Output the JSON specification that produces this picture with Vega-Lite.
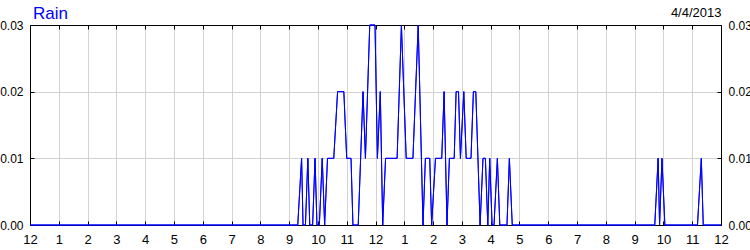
{
  "$schema": "https://vega.github.io/schema/vega-lite/v6.json",
  "width": 691,
  "height": 200,
  "autosize": {"type": "none"},
  "padding": {"left": 30, "top": 25, "right": 29, "bottom": 25},
  "background": "white",
  "config": {
    "view": {"stroke": "black", "strokeWidth": 1},
    "font": "Liberation Sans",
    "axis": {
      "domainColor": "black",
      "domainWidth": 1,
      "tickColor": "black",
      "tickWidth": 1,
      "labelColor": "black",
      "labelFont": "Liberation Sans",
      "labelFontSize": 12,
      "gridColor": "#d3d3d3",
      "gridWidth": 1,
      "gridOpacity": 1
    }
  },
  "title": {
    "text": "Rain",
    "anchor": "start",
    "frame": "group",
    "fontSize": 17,
    "fontWeight": "normal",
    "font": "Liberation Sans",
    "color": "#0000ff",
    "dx": 3,
    "offset": -16
  },
  "data": {
    "values": [
      {"time": "2013-04-04T00:00", "rain": 0},
      {"time": "2013-04-04T09:18", "rain": 0},
      {"time": "2013-04-04T09:26", "rain": 0.01},
      {"time": "2013-04-04T09:29", "rain": 0},
      {"time": "2013-04-04T09:34", "rain": 0},
      {"time": "2013-04-04T09:39", "rain": 0.01},
      {"time": "2013-04-04T09:43", "rain": 0},
      {"time": "2013-04-04T09:49", "rain": 0},
      {"time": "2013-04-04T09:54", "rain": 0.01},
      {"time": "2013-04-04T09:58", "rain": 0},
      {"time": "2013-04-04T10:03", "rain": 0},
      {"time": "2013-04-04T10:09", "rain": 0.01},
      {"time": "2013-04-04T10:14", "rain": 0},
      {"time": "2013-04-04T10:20", "rain": 0.01},
      {"time": "2013-04-04T10:33", "rain": 0.01},
      {"time": "2013-04-04T10:41", "rain": 0.02},
      {"time": "2013-04-04T10:54", "rain": 0.02},
      {"time": "2013-04-04T11:00", "rain": 0.01},
      {"time": "2013-04-04T11:09", "rain": 0.01},
      {"time": "2013-04-04T11:13", "rain": 0},
      {"time": "2013-04-04T11:24", "rain": 0},
      {"time": "2013-04-04T11:34", "rain": 0.02},
      {"time": "2013-04-04T11:39", "rain": 0.01},
      {"time": "2013-04-04T11:48", "rain": 0.03},
      {"time": "2013-04-04T11:59", "rain": 0.03},
      {"time": "2013-04-04T12:04", "rain": 0.01},
      {"time": "2013-04-04T12:10", "rain": 0.02},
      {"time": "2013-04-04T12:15", "rain": 0},
      {"time": "2013-04-04T12:21", "rain": 0.01},
      {"time": "2013-04-04T12:45", "rain": 0.01},
      {"time": "2013-04-04T12:54", "rain": 0.03},
      {"time": "2013-04-04T13:04", "rain": 0.01},
      {"time": "2013-04-04T13:18", "rain": 0.01},
      {"time": "2013-04-04T13:29", "rain": 0.03},
      {"time": "2013-04-04T13:39", "rain": 0},
      {"time": "2013-04-04T13:44", "rain": 0.01},
      {"time": "2013-04-04T13:53", "rain": 0.01},
      {"time": "2013-04-04T13:57", "rain": 0},
      {"time": "2013-04-04T14:05", "rain": 0.01},
      {"time": "2013-04-04T14:18", "rain": 0.01},
      {"time": "2013-04-04T14:23", "rain": 0.02},
      {"time": "2013-04-04T14:29", "rain": 0},
      {"time": "2013-04-04T14:34", "rain": 0.01},
      {"time": "2013-04-04T14:44", "rain": 0.01},
      {"time": "2013-04-04T14:48", "rain": 0.02},
      {"time": "2013-04-04T14:53", "rain": 0.02},
      {"time": "2013-04-04T14:57", "rain": 0.01},
      {"time": "2013-04-04T15:04", "rain": 0.02},
      {"time": "2013-04-04T15:09", "rain": 0.01},
      {"time": "2013-04-04T15:19", "rain": 0.01},
      {"time": "2013-04-04T15:24", "rain": 0.02},
      {"time": "2013-04-04T15:29", "rain": 0.02},
      {"time": "2013-04-04T15:38", "rain": 0},
      {"time": "2013-04-04T15:44", "rain": 0.01},
      {"time": "2013-04-04T15:49", "rain": 0.01},
      {"time": "2013-04-04T15:54", "rain": 0},
      {"time": "2013-04-04T15:58", "rain": 0.01},
      {"time": "2013-04-04T16:03", "rain": 0},
      {"time": "2013-04-04T16:07", "rain": 0},
      {"time": "2013-04-04T16:14", "rain": 0.01},
      {"time": "2013-04-04T16:19", "rain": 0},
      {"time": "2013-04-04T16:34", "rain": 0},
      {"time": "2013-04-04T16:39", "rain": 0.01},
      {"time": "2013-04-04T16:45", "rain": 0},
      {"time": "2013-04-04T21:42", "rain": 0},
      {"time": "2013-04-04T21:49", "rain": 0.01},
      {"time": "2013-04-04T21:52", "rain": 0},
      {"time": "2013-04-04T21:57", "rain": 0.01},
      {"time": "2013-04-04T22:03", "rain": 0},
      {"time": "2013-04-04T23:11", "rain": 0},
      {"time": "2013-04-04T23:19", "rain": 0.01},
      {"time": "2013-04-04T23:23", "rain": 0},
      {"time": "2013-04-05T00:00", "rain": 0}
    ]
  },
  "layer": [
    {
      "mark": {"type": "line", "color": "#0000ff", "strokeWidth": 1},
      "encoding": {
        "x": {
          "field": "time",
          "type": "temporal",
          "scale": {
            "domain": [
              {"year": 2013, "month": 4, "date": 4, "hours": 0},
              {"year": 2013, "month": 4, "date": 5, "hours": 0}
            ]
          },
          "axis": {
            "orient": "bottom",
            "title": null,
            "grid": true,
            "tickCount": 24,
            "labelExpr": "timeFormat(datum.value, '%-I')",
            "labelFlush": false,
            "labelOverlap": false,
            "tickSize": -4,
            "labelPadding": 12,
            "labelFontSize": 13
          }
        },
        "y": {
          "field": "rain",
          "type": "quantitative",
          "scale": {"domain": [0, 0.03], "nice": false},
          "axis": {
            "orient": "left",
            "title": null,
            "grid": true,
            "values": [0, 0.01, 0.02, 0.03],
            "format": ".2f",
            "tickSize": -4,
            "labelPadding": 11,
            "labelFlush": false
          }
        }
      }
    },
    {
      "mark": {"type": "line", "color": "#0000ff", "strokeWidth": 1},
      "encoding": {
        "x": {
          "field": "time",
          "type": "temporal",
          "scale": {
            "domain": [
              {"year": 2013, "month": 4, "date": 4, "hours": 0},
              {"year": 2013, "month": 4, "date": 5, "hours": 0}
            ]
          },
          "axis": {
            "orient": "top",
            "title": "4/4/2013",
            "titleAnchor": "end",
            "titleAlign": "right",
            "titleFontSize": 13,
            "titleFontWeight": "normal",
            "titleColor": "black",
            "titlePadding": 5,
            "grid": false,
            "labels": false,
            "tickCount": 24,
            "tickSize": -4
          }
        },
        "y": {
          "field": "rain",
          "type": "quantitative",
          "scale": {"domain": [0, 0.03], "nice": false},
          "axis": {
            "orient": "right",
            "title": null,
            "grid": false,
            "values": [0, 0.01, 0.02, 0.03],
            "format": ".2f",
            "tickSize": -4,
            "labelPadding": 11,
            "labelFlush": false
          }
        }
      }
    }
  ],
  "resolve": {"scale": {"x": "independent", "y": "independent"}}
}
